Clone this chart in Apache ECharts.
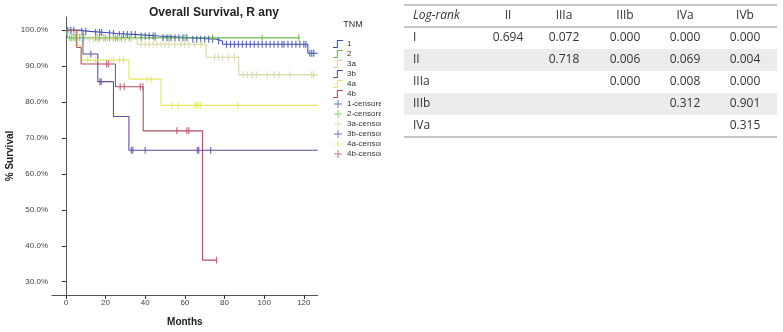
<!DOCTYPE html>
<html>
<head>
<meta charset="utf-8">
<script src="https://cdn.jsdelivr.net/npm/echarts@6/dist/echarts.min.js"></script>
<style>
	html, body { margin: 0; padding: 0; background: #fff; }
	#chart { width: 783px; height: 332px; }
</style>
</head>
<body>
<div id="chart"></div>
<script>
	// Kaplan-Meier steps: [month, % survival]
	var groupNames = ['1', '2', '3a', '3b', '4a', '4b'];
	var groupColors = ['#3d4fb3', '#6cc04a', '#d6d6a4', '#6249a8', '#e6e660', '#b84c60'];

	var steps1 = [[0,100],[6,99.7],[12,99.4],[20,99.1],[26,98.8],[36,98.4],[47,97.9],[63,97.5],[76,97.0],[79,96.1],[122,93.6],[127,93.6]];
	var steps2 = [[0,100],[1,97.9],[118,97.9]];
	var steps3a = [[0,100],[3,98.8],[10,97.6],[36,96.1],[70.7,92.5],[87.2,87.6],[127,87.6]];
	var steps3b = [[0,100],[8.6,93.4],[16.1,85.7],[24,76.0],[31.8,66.6],[127,66.6]];
	var steps4a = [[0,100],[5,95.8],[8,91.7],[31.8,86.4],[48,79.1],[127,79.1]];
	var steps4b = [[0,100],[5.5,95.2],[7.7,90.6],[25,84.3],[39,72.0],[68.9,36.0],[76,36.0]];

	// censoring times (months)
	var cens1 = [1,2.5,4,8,10,15,17,18,22,24,27,29,31,33,35,38,40,42,44,45,49,51,53,55,57,59,61,64,66,68,70,72,74,77,81,83,85,87,89,91,93,95,97,99,101,103,105,107,109,110,112,114,116,118,120,121,123,124,125];
	var cens2 = [2,3,4,5,7,9,15,16,17,19,20,22,24,25,26,28,30,32,38,45,52,60,74,99,117.5];
	var cens3a = [4,6,8,12,14,16,19,21,24,27,30,33,38,40,42,44,46,48,50,52,55,58,60,62,65,68,75,77,79,82,85,89.5,91.5,94,96,101.5,105,107.5,113,124,125];
	var cens3b = [12.6,17.2,17.8,33,33.8,40,66.3,67,73];
	var cens4a = [11,15,24,27,29,41,43,53.5,56.7,65,66,67,68,86.7];
	var cens4b = [20.5,21.5,27.4,29.4,37.5,38.8,56,61,62,76];

	var xTicks = [0, 20, 40, 60, 80, 100, 120];
	var yTicks = [30, 40, 50, 60, 70, 80, 90, 100];

	// log-rank p values table
	var tableCols = ['II', 'IIIa', 'IIIb', 'IVa', 'IVb'];
	var tableRows = ['I', 'II', 'IIIa', 'IIIb', 'IVa'];
	var pValues = [
		[0.694, 0.072, 0.000, 0.000, 0.000],
		[null, 0.718, 0.006, 0.069, 0.004],
		[null, null, 0.000, 0.008, 0.000],
		[null, null, null, 0.312, 0.901],
		[null, null, null, null, 0.315]
	];

	var allSteps = [steps1, steps2, steps3a, steps3b, steps4a, steps4b];
	var allCens = [cens1, cens2, cens3a, cens3b, cens4a, cens4b];

	function survAt(steps, t) {
		var v = steps[0][1];
		for (var i = 0; i < steps.length; i++) {
			if (steps[i][0] <= t) v = steps[i][1];
		}
		return v;
	}

	var stepIcon = 'path://M0,9h5v-9h8v1.4h-6.6v9h-6.4z';
	var plusIcon = 'path://M5.3,0h1.4v12h-1.4z M0,5.3h12v1.4h-12z';
	var tickMark = 'path://M0,0h1v10h-1z';

	var series = [];
	var legendData = [];
	groupNames.forEach(function (name, i) {
		series.push({
			name: name,
			type: 'line',
			step: 'end',
			symbol: 'none',
			silent: true,
			color: groupColors[i],
			lineStyle: { width: 1.1, color: groupColors[i] },
			data: allSteps[i],
			z: 2
		});
		legendData.push({ name: name, icon: stepIcon });
	});
	groupNames.forEach(function (name, i) {
		var pts = allCens[i].map(function (t) { return [t, survAt(allSteps[i], t)]; });
		series.push({
			name: name + '-censored',
			type: 'scatter',
			symbol: tickMark,
			symbolSize: [1.2, 7],
			silent: true,
			color: groupColors[i],
			itemStyle: { color: groupColors[i] },
			data: pts,
			z: 3
		});
		legendData.push({ name: name + '-censored', icon: plusIcon });
	});

	// table graphics
	var tLeft = 404, tRight = 777, tTop = 5, headH = 22, rowH = 22;
	var colX = [508, 564, 625, 685, 745];
	var g = [];
	tableRows.forEach(function (r, i) {
		if (i % 2 === 1) {
			g.push({ type: 'rect', shape: { x: tLeft, y: tTop + headH + i * rowH, width: tRight - tLeft, height: rowH }, style: { fill: '#ececec' }, z: 1 });
		}
	});
	g.push({ type: 'line', shape: { x1: tLeft, y1: tTop, x2: tRight, y2: tTop }, style: { stroke: '#8a8a8a', lineWidth: 1 }, z: 2 });
	g.push({ type: 'line', shape: { x1: tLeft, y1: tTop + headH, x2: tRight, y2: tTop + headH }, style: { stroke: '#8a8a8a', lineWidth: 1 }, z: 2 });
	g.push({ type: 'line', shape: { x1: tLeft, y1: tTop + headH + tableRows.length * rowH, x2: tRight, y2: tTop + headH + tableRows.length * rowH }, style: { stroke: '#8a8a8a', lineWidth: 1 }, z: 2 });
	var tFont = '"Open Sans", "Noto Sans", sans-serif';
	g.push({ type: 'text', x: 413, y: tTop + headH / 2, style: { text: 'Log-rank', fontStyle: 'italic', fontSize: 12, fontFamily: tFont, fill: '#333', verticalAlign: 'middle' }, z: 3 });
	tableCols.forEach(function (c, j) {
		g.push({ type: 'text', x: colX[j], y: tTop + headH / 2, style: { text: c, fontSize: 12, fontFamily: tFont, fill: '#333', align: 'center', verticalAlign: 'middle' }, z: 3 });
	});
	tableRows.forEach(function (r, i) {
		var cy = tTop + headH + i * rowH + rowH / 2;
		g.push({ type: 'text', x: 413, y: cy, style: { text: r, fontSize: 12, fontFamily: tFont, fill: '#333', verticalAlign: 'middle' }, z: 3 });
		pValues[i].forEach(function (v, j) {
			if (v === null) return;
			g.push({ type: 'text', x: colX[j], y: cy, style: { text: v.toFixed(3), fontSize: 12, fontFamily: tFont, fill: '#333', align: 'center', verticalAlign: 'middle' }, z: 3 });
		});
	});
	// legend cut-off strip and TNM heading
	g.push({ type: 'rect', shape: { x: 381, y: 0, width: 20, height: 332 }, style: { fill: '#fff' }, z: 10 });
	g.push({ type: 'text', x: 353, y: 25, style: { text: 'TNM', fontSize: 9, fontFamily: 'Liberation Sans, Arial, sans-serif', fill: '#333', align: 'center', verticalAlign: 'middle' }, z: 3 });

	var myChart = echarts.init(document.getElementById('chart'));
	var option = {
		animation: false,
		backgroundColor: '#fff',
		title: {
			text: 'Overall Survival, R any',
			left: 209,
			top: 2,
			textAlign: 'center',
			textStyle: { fontSize: 12, fontWeight: 'bold', color: '#222', fontFamily: 'Liberation Sans, Arial, sans-serif' }
		},
		legend: {
			data: legendData,
			orient: 'vertical',
			left: 328,
			top: 35,
			itemWidth: 12,
			itemHeight: 8,
			itemGap: 2,
			selectedMode: false,
			textStyle: { fontSize: 8, color: '#333', padding: [0, 0, 0, -2], fontFamily: 'Liberation Sans, Arial, sans-serif' }
		},
		grid: { left: 52, right: 465.3, top: 17, bottom: 36, containLabel: false },
		xAxis: {
			type: 'value',
			min: -7,
			max: 127,
			name: 'Months',
			nameLocation: 'middle',
			nameGap: 22,
			nameTextStyle: { fontSize: 10, fontWeight: 'bold', color: '#222', fontFamily: 'Liberation Sans, Arial, sans-serif' },
			axisLine: { lineStyle: { color: '#555', width: 1 } },
			axisTick: { customValues: xTicks, length: 4, lineStyle: { color: '#333' } },
			axisLabel: { customValues: xTicks, fontSize: 8, color: '#444', margin: 4, fontFamily: 'Liberation Sans, Arial, sans-serif' },
			splitLine: { show: false }
		},
		yAxis: {
			type: 'value',
			min: 26.3,
			max: 103.7,
			name: '% Survival',
			nameLocation: 'middle',
			nameGap: 37,
			nameRotate: 90,
			nameTextStyle: { fontSize: 10, fontWeight: 'bold', color: '#222', fontFamily: 'Liberation Sans, Arial, sans-serif' },
			axisLine: { show: true, lineStyle: { color: '#555', width: 1 } },
			axisTick: { show: true, customValues: yTicks, length: 4, lineStyle: { color: '#333' } },
			axisLabel: {
				customValues: yTicks, fontSize: 8, color: '#444', margin: 4, fontFamily: 'Liberation Sans, Arial, sans-serif',
				formatter: function (v) { return v.toFixed(1) + '%'; }
			},
			splitLine: { show: false }
		},
		graphic: g,
		series: series
	};
	myChart.setOption(option);
</script>
</body>
</html>
